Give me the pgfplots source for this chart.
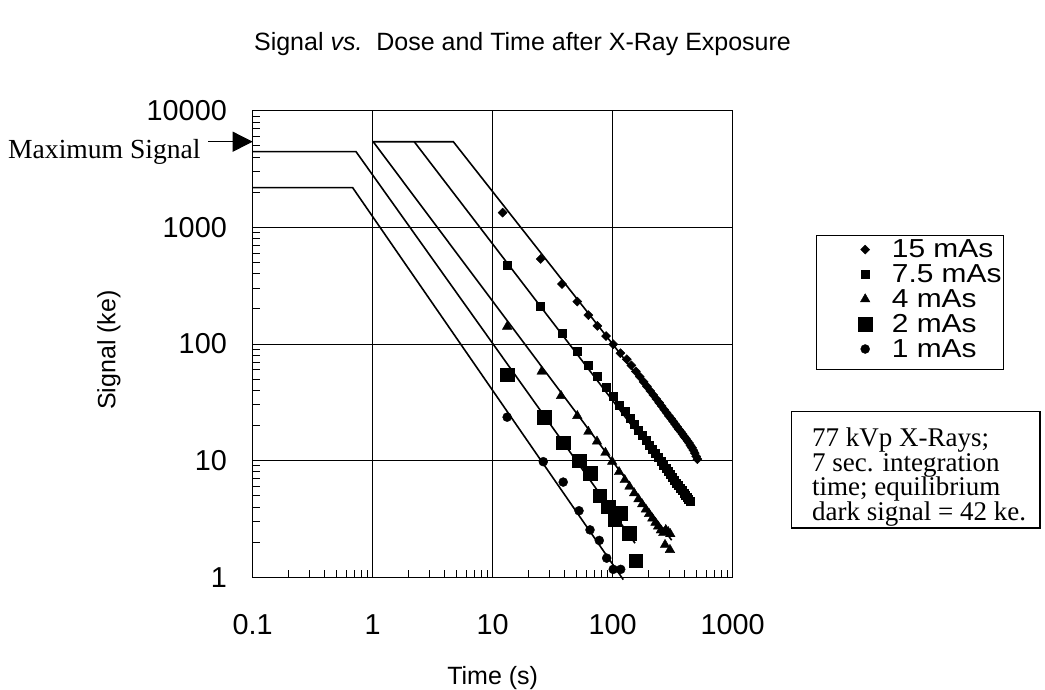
\documentclass[border=0pt]{standalone}
\usepackage{fontspec}
\setmainfont{Liberation Sans}
\newfontfamily\timesfont{Liberation Serif}
\newfontfamily\legendfont{Liberation Sans}[FakeStretch=1.15]
\usepackage{pgfplots}
\pgfplotsset{compat=1.18}
\usetikzlibrary{arrows.meta}

\begin{document}
\begin{tikzpicture}
\path[use as bounding box] (0pt,0pt) rectangle (1045pt,-690pt);
\begin{axis}[
  at={(252.7pt,-577.3pt)}, anchor=south west,
  scale only axis, width=480pt, height=466.6pt,
  xmode=log, ymode=log,
  xmin=0.1, xmax=1000, ymin=1, ymax=10000,
  xtick={0.1,1,10,100,1000}, xticklabels={0.1,1,10,100,1000},
  ytick={1,10,100,1000,10000}, yticklabels={1,10,100,1000,10000},
  minor xtick={0.2,0.3,0.4,0.5,0.6,0.7,0.8,0.9,2,3,4,5,6,7,8,9,20,30,40,50,60,70,80,90,200,300,400,500,600,700,800,900},
  minor ytick={2,3,4,5,6,7,8,9,20,30,40,50,60,70,80,90,200,300,400,500,600,700,800,900,2000,3000,4000,5000,6000,7000,8000,9000},
  tick pos=left, tick align=inside,
  major tick length=10.7pt, minor tick length=7.3pt,
  tick style={black, line width=1pt},
  grid=major, major grid style={black, line width=0.9pt},
  axis line style={black, line width=1.5pt},
  clip=false,
  /pgf/number format/assume math mode=true,
  tick label style={font=\fontsize{28.8}{30}\selectfont},
  yticklabel style={inner sep=0pt, xshift=-25.7pt},
  xticklabel style={inner sep=0pt, yshift=-37pt},
  legend style={at={(1.17354,0.72354)}, anchor=north west, draw=none, fill=none,
    inner sep=0pt, row sep=5.4pt, column sep=0pt,
    nodes={inner sep=0pt, anchor=west},
    font=\legendfont\fontsize{26}{26}\selectfont},
  legend cell align=left,
  legend image code/.code={%
    \path[draw=none, fill=none] (-49pt,-5pt) rectangle (26.7pt,5pt);
    \draw[#1] plot coordinates {(0pt,0pt)};},
]
% model lines: saturation plateau followed by power-law decay
\addplot[forget plot, black, line width=1.6pt] coordinates {(1,5420) (4.7,5420) (515,11.7)};
\addplot[forget plot, black, line width=1.6pt] coordinates {(2.22,5420) (445,4.41)};
\addplot[forget plot, black, line width=1.6pt] coordinates {(1.01,5420) (310,2.08)};
\addplot[forget plot, black, line width=1.6pt] coordinates {(0.1,4457) (0.726,4457) (153.5,1.96)};
\addplot[forget plot, black, line width=1.6pt] coordinates {(0.1,2188) (0.681,2188) (122.5,0.955)};

% 15 mAs
\addplot[only marks, mark=square*, mark size=3.2pt, mark options={rotate=45, black, fill=black}] coordinates {
(12.1,1337) (25.1,536) (37.8,327) (50.7,231) (62.7,177) (74.5,143) (88,117) (101,99.5)
(116,83.4) (131,74) (143,65.6) (156,58.2) (168,52.5) (181,47.4) (193,43.3) (206,39.6)
(218,36.6) (231,33.8) (244,31.4) (256,29.4) (269,27.4) (281,25.8) (294,24.2) (307,22.9)
(319,21.7) (332,20.5) (344,19.5) (357,18.5) (370,17.7) (382,16.9) (395,16.1) (407,15.5)
(420,14.8) (433,14.2) (445,13.5) (458,12.9) (470,12.3) (483,11.6) (496,10.9) (508,10.3)};
% 7.5 mAs
\addplot[only marks, mark=square*, mark size=4pt, mark options={black, fill=black}] coordinates {
(13.2,476) (25.1,212) (37.8,125) (50.7,87.3) (62.7,66.2) (74.5,52.6) (89,42.7) (100,35.4)
(113.5,30.1) (127,26.4) (139,23.2) (151,20.6) (164,18.3) (176,16.5) (189,14.9) (202,13.6)
(214,12.5) (227,11.5) (239,10.7) (252,9.9) (265,9.2) (277,8.64) (290,8.09) (302,7.64)
(315,7.19) (328,6.78) (340,6.44) (353,6.11) (365,5.82) (378,5.54) (391,5.27) (403,5.05)
(416,4.83) (428,4.64) (440,4.46)};
% 4 mAs
\addplot[only marks, mark=triangle*, mark size=5.5pt, mark options={black, fill=black}] coordinates {
(13.2,141) (25.6,58.1) (37.1,35.9) (50.7,24.2) (62.7,17.7) (74,14.6) (87,11.7) (99,9.8)
(113,8.0) (126,6.83) (138,6.0) (151,5.27) (164,4.68) (176,4.23) (189,3.82) (201,3.50)
(214,3.20) (227,2.94) (239,2.73) (252,2.53) (264,2.40) (277,2.55) (290,2.45) (302,2.35)
(273,1.90) (300,1.72)};
% 2 mAs
\addplot[only marks, mark=square*, mark size=6.7pt, mark options={black, fill=black}] coordinates {
(13.2,54.3) (26.8,23.6) (38.7,14.3) (52.4,10.0) (64.7,7.8) (78.3,5.02) (91.9,4.05)
(104.5,3.15) (116.6,3.55) (137,2.39) (155.5,1.39)};
% 1 mAs
\addplot[only marks, mark=*, mark size=4.5pt, mark options={black, fill=black}] coordinates {
(13.2,23.6) (26.4,9.8) (38.7,6.55) (52.4,3.72) (64.7,2.55) (77.3,2.07) (89.1,1.46)
(101,1.17) (116.6,1.17)};
\legend{15 mAs, 7.5 mAs, 4 mAs, 2 mAs, 1 mAs}
\end{axis}

% title and axis titles
\node[font=\fontsize{25}{30}\selectfont] at (522.5pt,-44pt) {Signal \textit{vs.}\ \ Dose and Time after X-Ray Exposure};
\node[font=\fontsize{25}{30}\selectfont, rotate=90] at (109pt,-350pt) {Signal (ke)};
\node[font=\fontsize{25}{30}\selectfont] at (492.7pt,-678pt) {Time (s)};

% saturation level annotation
\node[anchor=base west, inner sep=0pt, font=\timesfont\fontsize{27.6}{30}\selectfont] at (8pt,-158.3pt) {Maximum Signal};
\draw[line width=1pt, -{Triangle[length=20pt,width=20pt]}] (208pt,-141.7pt) -- (252.7pt,-141.7pt);

% legend frame
\draw[line width=1pt] (816pt,-235pt) rectangle (1003pt,-369pt);

% exposure conditions
\draw[line width=1.5pt] (791.7pt,-411.7pt) rectangle (1040pt,-528pt);
\begin{scope}[every node/.style={anchor=base west, inner sep=0pt, font=\timesfont\fontsize{27}{30}\selectfont}]
\node at (812pt,-446.5pt) {77 kVp X-Rays;};
\node at (812pt,-471pt) {7 sec. integration};
\node at (812pt,-495.5pt) {time; equilibrium};
\node at (812pt,-520pt) {dark signal = 42 ke.};
\end{scope}
\end{tikzpicture}
\end{document}
